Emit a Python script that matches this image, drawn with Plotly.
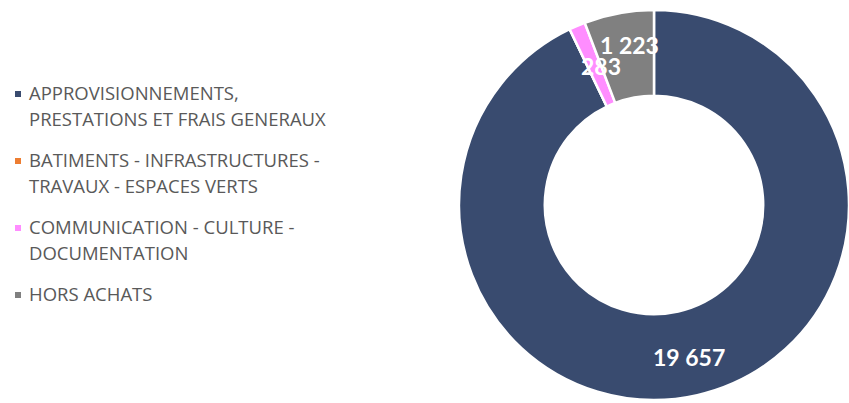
import math
import plotly.graph_objects as go

# Spending by purchase family (k€)
categories = [
    "APPROVISIONNEMENTS,<br>PRESTATIONS ET FRAIS GENERAUX",
    "BATIMENTS - INFRASTRUCTURES -<br>TRAVAUX - ESPACES VERTS",
    "COMMUNICATION - CULTURE -<br>DOCUMENTATION",
    "HORS ACHATS",
]
values = [19657, 0, 283, 1223]
colors = ["#394B6F", "#ED7D31", "#FF8DFF", "#808080"]

W, H = 849, 403
LEGEND_FONT = "Open Sans"
LABEL_FONT = "Lato"
TEXT_GREY = "#595959"

# Donut placement (pixels)
dom_x = (459, W)
dom_y = (10, 400)  # from top
cx = (dom_x[0] + dom_x[1]) / 2
cy = (dom_y[0] + dom_y[1]) / 2
r_out = min(dom_x[1] - dom_x[0], dom_y[1] - dom_y[0]) / 2
label_r = 0.8 * r_out
# small shifts (px) so the labels of the two thin slices don't collide
label_shift = {2: (8, 4), 3: (4, -7)}

fig = go.Figure(
    go.Pie(
        labels=[c.replace("<br>", " ") for c in categories],
        values=values,
        hole=0.56,
        sort=False,
        direction="clockwise",
        rotation=0,
        marker=dict(colors=colors, line=dict(color="white", width=2.5)),
        textinfo="none",
        showlegend=False,
        domain=dict(x=[dom_x[0] / W, dom_x[1] / W],
                    y=[1 - dom_y[1] / H, 1 - dom_y[0] / H]),
        hoverinfo="label+value",
    )
)

annotations, shapes = [], []

# Value labels at the middle angle of each slice (clockwise from 12 o'clock)
total = sum(values)
cum = 0
for i, v in enumerate(values):
    mid = (cum + v / 2) / total * 2 * math.pi
    cum += v
    if v == 0:
        continue
    dx, dy = label_shift.get(i, (0, 0))
    px = cx + label_r * math.sin(mid) + dx
    py = cy - label_r * math.cos(mid) + dy
    annotations.append(dict(
        text=f"{v:,}".replace(",", " "), xref="paper", yref="paper",
        x=px / W, y=1 - py / H, xanchor="center", yanchor="middle",
        showarrow=False,
        font=dict(family=LABEL_FONT, size=23, color="white", weight="bold"),
    ))

# Legend drawn as swatches + wrapped text lines
first_line_y = 92.5
item_step = 67
line_step = 25.5
for i, (cat, col) in enumerate(zip(categories, colors)):
    y_item = first_line_y + i * item_step
    shapes.append(dict(
        type="rect", xref="paper", yref="paper",
        x0=15 / W, x1=21 / W,
        y0=1 - (y_item + 4.5) / H, y1=1 - (y_item - 1.5) / H,
        fillcolor=col, line=dict(width=0),
    ))
    for j, line in enumerate(cat.split("<br>")):
        annotations.append(dict(
            text=line, xref="paper", yref="paper",
            x=27 / W, y=1 - (y_item + j * line_step) / H,
            xanchor="left", yanchor="middle", showarrow=False,
            font=dict(family=LEGEND_FONT, size=18.5, color=TEXT_GREY),
        ))

fig.update_layout(
    width=W, height=H,
    margin=dict(l=0, r=0, t=0, b=0),
    paper_bgcolor="white", plot_bgcolor="white",
    separators=", ",
    shapes=shapes, annotations=annotations,
    font=dict(family=LEGEND_FONT, color=TEXT_GREY),
)

fig.write_html("out.html")
